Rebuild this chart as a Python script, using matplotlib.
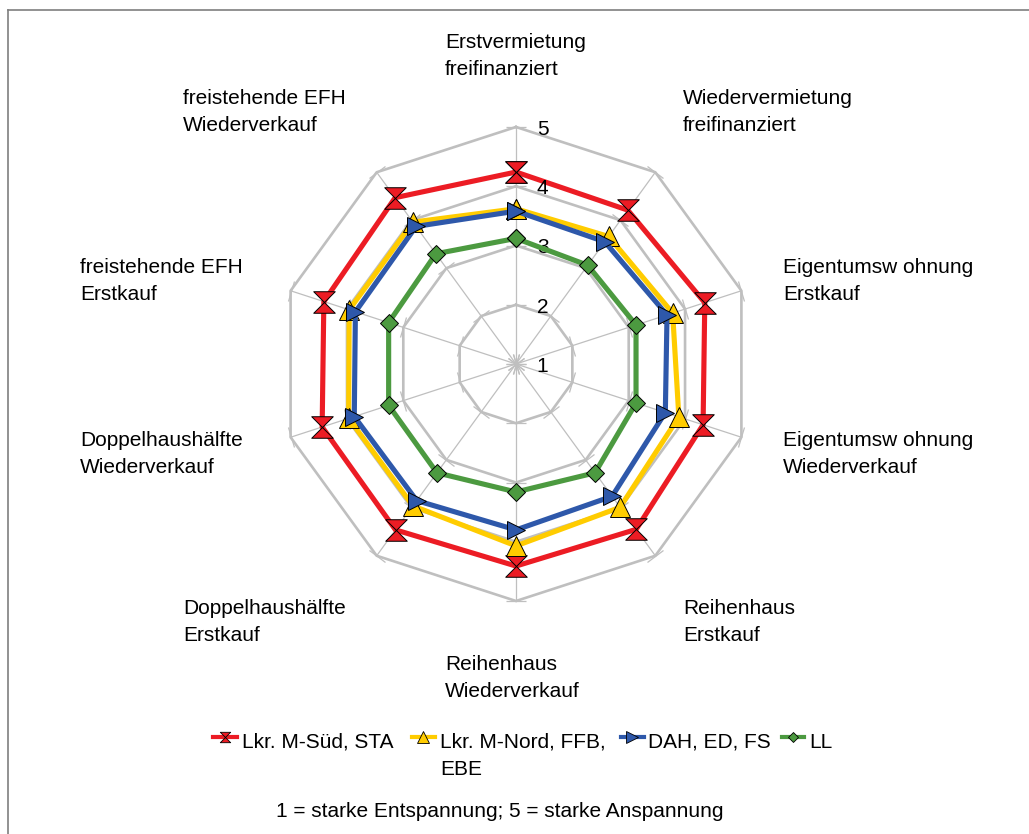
import numpy as np
import matplotlib
matplotlib.use("Agg")
import matplotlib.pyplot as plt
from matplotlib.lines import Line2D
from matplotlib.markers import MarkerStyle
from matplotlib.path import Path
from matplotlib.transforms import Affine2D

plt.rcParams['font.family'] = ['Liberation Sans', 'DejaVu Sans']

# ---- data ----------------------------------------------------------------
categories = [
    "Erstvermietung\nfreifinanziert",
    "Wiedervermietung\nfreifinanziert",
    "Eigentumsw ohnung\nErstkauf",
    "Eigentumsw ohnung\nWiederverkauf",
    "Reihenhaus\nErstkauf",
    "Reihenhaus\nWiederverkauf",
    "Doppelhaushälfte\nErstkauf",
    "Doppelhaushälfte\nWiederverkauf",
    "freistehende EFH\nErstkauf",
    "freistehende EFH\nWiederverkauf",
]
series_names = ["Lkr. M-Süd, STA", "Lkr. M-Nord, FFB,\nEBE", "DAH, ED, FS", "LL"]
sued_sta = [4.24, 4.21, 4.35, 4.32, 4.45, 4.41, 4.46, 4.44, 4.41, 4.47]
nord_ffb_ebe = [3.62, 3.66, 3.78, 3.89, 3.99, 4.07, 3.96, 3.97, 3.96, 3.96]
dah_ed_fs = [3.58, 3.55, 3.68, 3.65, 3.76, 3.80, 3.85, 3.87, 3.85, 3.87]
ll = [3.12, 3.06, 3.13, 3.13, 3.27, 3.16, 3.27, 3.26, 3.26, 3.30]
levels = [1, 2, 3, 4, 5]
footnote = "1 = starke Entspannung; 5 = starke Anspannung"

# ---- styling -------------------------------------------------------------
W, H = 1029, 834
colors = ["#EC1C24", "#FFCC00", "#2E58AA", "#4C9A40"]
grid_col = "#BFBFBF"

hourglass = Path([(-1, 1), (1, 1), (0, 0), (-1, 1),
                  (-1, -1), (1, -1), (0, 0), (-1, -1)],
                 [Path.MOVETO, Path.LINETO, Path.LINETO, Path.CLOSEPOLY,
                  Path.MOVETO, Path.LINETO, Path.LINETO, Path.CLOSEPOLY])
markers = [hourglass, "^", ">", "D"]
msizes = [15.5, 15.0, 13.5, 9.5]
legend_ms = [7.5, 8.5, 8.0, 5.2]


def fx(x):
    return x / W


def fy(y):
    return 1 - y / H


fig = plt.figure(figsize=(W / 100, H / 100), dpi=100)

# polar axes centred on the web; radius of level 5 = 237 px
cx, cy, R = 516, 364, 237
ax = fig.add_axes([fx(cx - R), fy(cy + R), 2 * R / W, 2 * R / H], projection="polar")
ax.set_theta_zero_location("N")
ax.set_theta_direction(-1)
ax.set_ylim(1, 5)
ax.grid(False)
ax.set_xticks([])
ax.set_yticks([])
ax.spines["polar"].set_visible(False)
ax.patch.set_visible(False)

n = len(categories)
theta = np.arange(n) * 2 * np.pi / n
theta_c = np.append(theta, theta[0])

# polygon grid
for lv in levels[1:]:
    ax.plot(theta_c, [lv] * (n + 1), color=grid_col, lw=1.9, zorder=1, clip_on=False)
# spokes and tick marks
for i, t in enumerate(theta):
    ax.plot([t, t], [levels[0], levels[-1]], color=grid_col, lw=0.9, zorder=1, clip_on=False)
    tick = MarkerStyle("_", transform=Affine2D().rotate_deg(-36 * i))
    ax.plot([t] * len(levels), levels, ls="none", marker=tick, ms=14.5,
            mew=0.9, color=grid_col, zorder=1, clip_on=False)

# value labels on the vertical axis
for lv in levels:
    ax.annotate(str(lv), xy=(0, lv), xytext=(15, -5.6), textcoords="offset points",
                ha="left", va="baseline", fontsize=15, color="black", zorder=5,
                annotation_clip=False)

# data series
all_series = [sued_sta, nord_ffb_ebe, dah_ed_fs, ll]
for k, vals in enumerate(all_series):
    v = np.append(vals, vals[0])
    ax.plot(theta_c, v, color=colors[k], lw=3.7, marker=markers[k], ms=msizes[k],
            mfc=colors[k], mec="black", mew=0.7, zorder=3 + k, clip_on=False)

# category labels (left-aligned, two lines)
label_pos = [(445, 48), (683, 104), (783, 273), (783, 446), (683, 614),
             (445, 670), (183, 614), (80, 446), (80, 273), (183, 104)]
for cat, (x, yb) in zip(categories, label_pos):
    for j, line in enumerate(cat.split("\n")):
        fig.text(fx(x), fy(yb + 27 * j), line, ha="left", va="baseline", fontsize=15)

# legend
leg_items = [(213, 237, 241.5), (411.5, 435, 440.5), (620.5, 643.5, 648), (781.5, 804, 809)]
ly = 737
for k, (x0, x1, xt) in enumerate(leg_items):
    fig.add_artist(Line2D([fx(x0), fx(x1)], [fy(ly), fy(ly)], color=colors[k], lw=3.0,
                          transform=fig.transFigure))
    fig.add_artist(Line2D([fx((x0 + x1) / 2)], [fy(ly)], ls="none", marker=markers[k],
                          ms=legend_ms[k], mfc=colors[k], mec="black", mew=0.6,
                          transform=fig.transFigure))
    for j, line in enumerate(series_names[k].split("\n")):
        fig.text(fx(xt), fy(748 + 27 * j), line, ha="left", va="baseline", fontsize=15)

fig.text(fx(500), fy(817), footnote, ha="center", va="baseline", fontsize=15)

# chart frame
fig.add_artist(Line2D([fx(7.5), fx(W)], [fy(9.5), fy(9.5)], color="#7F7F7F", lw=1.2,
                      transform=fig.transFigure))
fig.add_artist(Line2D([fx(7.5), fx(7.5)], [fy(9.5), fy(H)], color="#7F7F7F", lw=1.2,
                      transform=fig.transFigure))

fig.savefig("out.png", dpi=100)
